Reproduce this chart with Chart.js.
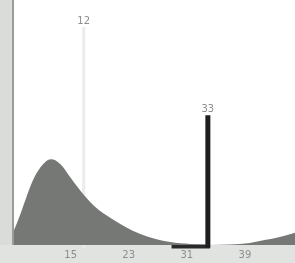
<!DOCTYPE html>
<html>
<head>
<meta charset="utf-8">
<script src="https://cdn.jsdelivr.net/npm/chart.js@4/dist/chart.umd.min.js"></script>
<style>
  html, body { margin: 0; padding: 0; background: #fff; }
  #wrap { width: 295px; height: 263px; position: relative; }
</style>
</head>
<body>
<div id="wrap"><canvas id="chart"></canvas></div>
<script>
// density curve
var densityX = [7.2, 8.1, 9.9, 11.2, 12.3, 13.6, 15, 16.8, 18.4, 20.5, 22.5, 24.6, 26.7, 28.7, 31.5, 34.2, 36.9, 39.7, 41.7, 43.8, 45.9];
var densityY = [6, 12.8, 27, 33, 35, 33, 27.5, 20.5, 15.5, 11, 7.5, 4.5, 2.5, 1.2, 0.4, 0, 0.2, 0.8, 2, 3.3, 5];

// marker lines: position, height, label
var markerX = [16.8, 33.9];
var markerTop = [89, 53];
var markerLabels = ['12', '33'];

// short black segment lying on the baseline
var baseSegX = [28.9, 34.2];

var tickValues = [15, 23, 31, 39];
var tickLabels = ['15', '23', '31', '39'];

var backdrop = {
  id: 'backdrop',
  beforeDraw: function(chart) {
    var ctx = chart.ctx, a = chart.chartArea;
    ctx.save();
    ctx.fillStyle = '#fff';
    ctx.fillRect(0, 0, chart.width, chart.height);
    ctx.fillStyle = '#d9dcd9';
    ctx.fillRect(0, 0, a.left - 1, chart.height);
    ctx.fillStyle = '#e1e3e1';
    ctx.fillRect(0, a.bottom, chart.width, chart.height - a.bottom);
    ctx.fillStyle = '#9a9c9a';
    ctx.fillRect(a.left - 2, 0, 2, a.bottom);
    ctx.restore();
  },
  afterDatasetsDraw: function(chart) {
    var ctx = chart.ctx;
    var xs = chart.scales.x, ys = chart.scales.y;
    ctx.save();
    ctx.font = '10px "DejaVu Sans"';
    ctx.fillStyle = '#8c8e8c';
    ctx.textAlign = 'center';
    ctx.textBaseline = 'bottom';
    for (var i = 0; i < markerX.length; i++) {
      ctx.fillText(markerLabels[i], xs.getPixelForValue(markerX[i]), ys.getPixelForValue(markerTop[i]) - 1);
    }
    ctx.restore();
  }
};

var datasets = [{
  data: densityX.map(function(x, i) { return { x: x, y: densityY[i] }; }),
  fill: 'origin',
  backgroundColor: '#767876',
  borderWidth: 0,
  pointRadius: 0,
  cubicInterpolationMode: 'monotone'
}];

var markerColors = ['#ececec', '#1e1e1e'];
var markerWidths = [3, 5];
markerX.forEach(function(x, i) {
  datasets.push({
    data: [{ x: x, y: -1 }, { x: x, y: markerTop[i] }],
    borderColor: markerColors[i],
    borderWidth: markerWidths[i],
    pointRadius: 0,
    clip: false
  });
});

datasets.push({
  data: [{ x: baseSegX[0], y: -0.6 }, { x: baseSegX[1], y: -0.6 }],
  borderColor: '#2a2a2a',
  borderWidth: 4,
  pointRadius: 0,
  clip: false
});

new Chart(document.getElementById('chart'), {
  type: 'line',
  data: { datasets: datasets },
  plugins: [backdrop],
  options: {
    responsive: true,
    maintainAspectRatio: false,
    animation: false,
    layout: { padding: { left: 14, right: 0, top: 0, bottom: 0 } },
    plugins: { legend: { display: false }, tooltip: { enabled: false } },
    scales: {
      x: {
        type: 'linear',
        min: 7.2,
        max: 45.9,
        grid: { display: false, drawTicks: false },
        border: { display: false },
        afterBuildTicks: function(scale) {
          scale.ticks = tickValues.map(function(v) { return { value: v }; });
        },
        afterFit: function(scale) { scale.height = 18; },
        ticks: {
          autoSkip: false,
          maxRotation: 0,
          padding: 4,
          color: '#8c8e8c',
          font: { family: 'DejaVu Sans', size: 10 },
          callback: function(v) {
            var i = tickValues.indexOf(v);
            return i < 0 ? '' : tickLabels[i];
          }
        }
      },
      y: { display: false, min: 0, max: 100 }
    }
  }
});
</script>
</body>
</html>
